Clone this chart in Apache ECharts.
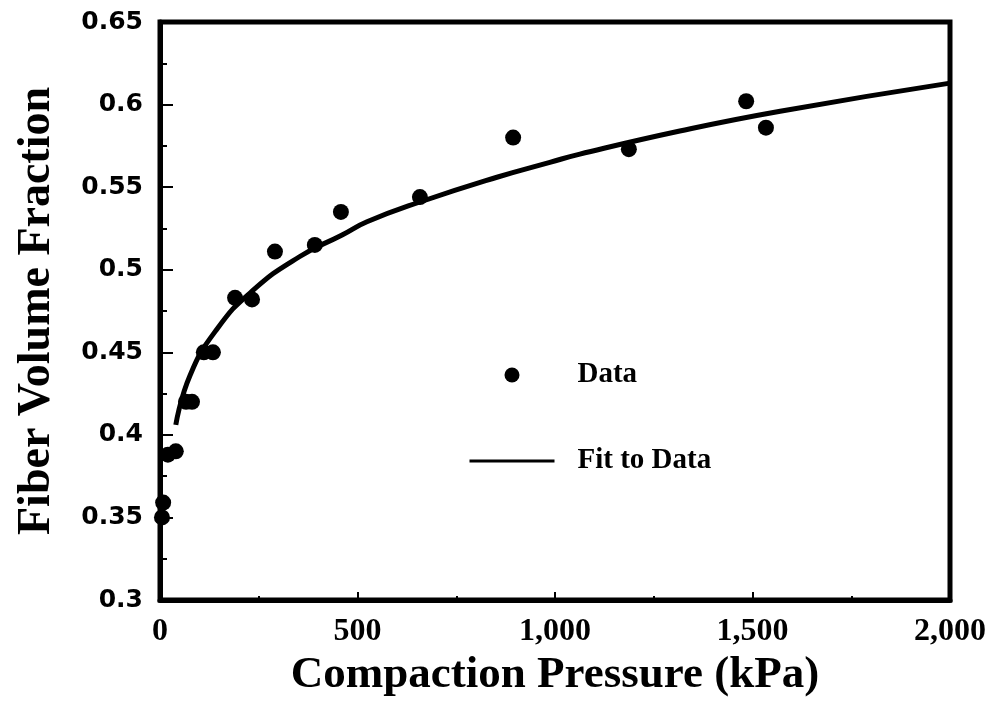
<!DOCTYPE html>
<html>
<head>
<meta charset="utf-8">
<script src="https://cdn.jsdelivr.net/npm/echarts@6/dist/echarts.min.js"></script>
<style>html,body{margin:0;padding:0;background:#fff;}#chart{width:997px;height:711px;}</style>
</head>
<body>
<div id="chart"></div>
<script>
// Measured data points (Compaction Pressure kPa, Fiber Volume Fraction)
const dataPressure = [5, 8, 20, 40, 66, 81, 111, 134, 190, 233, 291, 392, 458, 658, 894, 1187, 1484, 1534];
const dataFraction = [0.350, 0.359, 0.388, 0.390, 0.420, 0.420, 0.450, 0.450, 0.483, 0.482, 0.511, 0.515, 0.535, 0.544, 0.580, 0.573, 0.602, 0.586];
// Fit curve
const fitPressure = [40, 76, 144, 233, 354, 461, 524, 658, 853, 987, 1063, 1316, 1570, 2000];
const fitFraction = [0.406, 0.436, 0.464, 0.487, 0.508, 0.521, 0.529, 0.541, 0.556, 0.565, 0.570, 0.584, 0.596, 0.613];

const seriesNames = ['Data', 'Fit to Data'];
const xTitle = 'Compaction Pressure (kPa)';
const yTitle = 'Fiber Volume Fraction';

const chart = echarts.init(document.getElementById('chart'), null, {renderer: 'canvas'});
const serif = '"Liberation Serif", "Times New Roman", serif';
const sans = '"DejaVu Sans", sans-serif';

chart.setOption({
  animation: false,
  backgroundColor: '#fff',
  grid: {left: 160, right: 47, top: 22, bottom: 111, show: true, borderColor: '#000', borderWidth: 5, backgroundColor: 'transparent'},
  legend: {
    orient: 'vertical',
    left: 463, top: 355,
    itemWidth: 85, itemHeight: 15,
    itemGap: 56,
    textStyle: {fontFamily: serif, fontWeight: 'bold', fontSize: 29, color: '#000', lineHeight: 30, padding: [0, 0, 0, 18]},
    data: [
      {name: seriesNames[0], icon: 'circle', itemStyle: {color: '#000', opacity: 1}},
      {name: seriesNames[1], itemStyle: {opacity: 0}, lineStyle: {color: '#000', width: 3, opacity: 1}}
    ]
  },
  xAxis: {
    type: 'value', min: 0, max: 2000, interval: 500,
    name: xTitle, nameLocation: 'middle', nameGap: 36,
    nameTextStyle: {fontFamily: serif, fontWeight: 'bold', fontSize: 45, color: '#000'},
    axisLine: {show: true, onZero: false, lineStyle: {color: '#000', width: 5}},
    axisTick: {show: true, inside: true, length: 8, lineStyle: {color: '#000', width: 2}},
    minorTick: {show: true, splitNumber: 2, length: 4, lineStyle: {color: '#000', width: 2}},
    splitLine: {show: false},
    axisLabel: {margin: 16, fontFamily: serif, fontWeight: 'bold', fontSize: 32, color: '#000',
      formatter: v => v.toLocaleString('en-US')}
  },
  yAxis: {
    type: 'value', min: 0.3, max: 0.65, interval: 0.05,
    name: yTitle, nameLocation: 'middle', nameRotate: 90, nameGap: 100,
    nameTextStyle: {fontFamily: serif, fontWeight: 'bold', fontSize: 46, color: '#000'},
    axisLine: {show: true, onZero: false, lineStyle: {color: '#000', width: 5}},
    axisTick: {show: true, inside: true, length: 13, lineStyle: {color: '#000', width: 2}},
    minorTick: {show: true, splitNumber: 2, length: 7, lineStyle: {color: '#000', width: 2}},
    splitLine: {show: false},
    axisLabel: {margin: 17, fontFamily: sans, fontWeight: 'bold', fontSize: 25, color: '#000',
      formatter: v => String(+v.toFixed(2))}
  },
  series: [
    {
      name: seriesNames[0], type: 'scatter', symbol: 'circle', symbolSize: 16,
      itemStyle: {color: '#000', opacity: 1},
      data: dataPressure.map((x, i) => [x, dataFraction[i]]),
      z: 3
    },
    {
      name: seriesNames[1], type: 'line', symbol: 'none', smooth: 0.5,
      lineStyle: {color: '#000', width: 5},
      itemStyle: {color: '#000'},
      data: fitPressure.map((x, i) => [x, fitFraction[i]]),
      z: 2
    }
  ]
});
</script>
</body>
</html>
